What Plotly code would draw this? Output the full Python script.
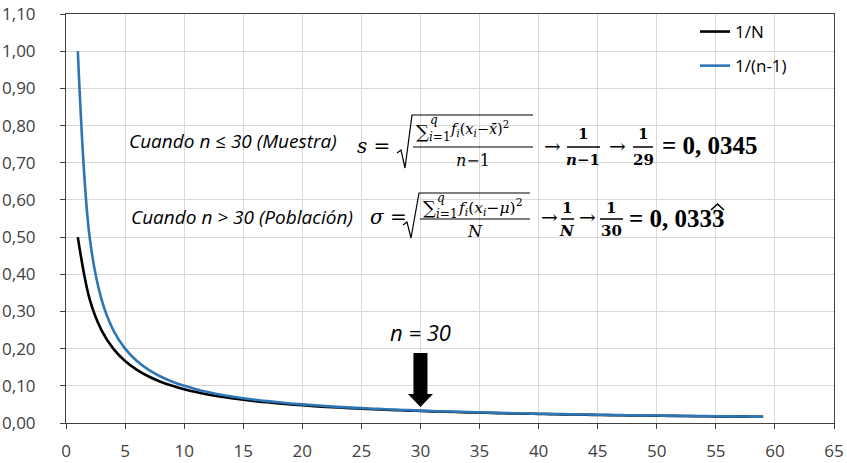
import plotly.graph_objects as go

# ---------------- data ----------------
X_VALUES = [1, 2, 3, 4, 5, 6, 7, 8, 9, 10,
            11, 12, 13, 14, 15, 16, 17, 18, 19, 20,
            21, 22, 23, 24, 25, 26, 27, 28, 29, 30,
            31, 32, 33, 34, 35, 36, 37, 38, 39, 40,
            41, 42, 43, 44, 45, 46, 47, 48, 49, 50,
            51, 52, 53, 54, 55, 56, 57, 58, 59]

ONE_OVER_N = [0.5000, 0.3333, 0.2500, 0.2000, 0.1667, 0.1429, 0.1250, 0.1111, 0.1000, 0.0909,
              0.0833, 0.0769, 0.0714, 0.0667, 0.0625, 0.0588, 0.0556, 0.0526, 0.0500, 0.0476,
              0.0455, 0.0435, 0.0417, 0.0400, 0.0385, 0.0370, 0.0357, 0.0345, 0.0333, 0.0323,
              0.0313, 0.0303, 0.0294, 0.0286, 0.0278, 0.0270, 0.0263, 0.0256, 0.0250, 0.0244,
              0.0238, 0.0233, 0.0227, 0.0222, 0.0217, 0.0213, 0.0208, 0.0204, 0.0200, 0.0196,
              0.0192, 0.0189, 0.0185, 0.0182, 0.0179, 0.0175, 0.0172, 0.0169, 0.0167]

ONE_OVER_N_MINUS_1 = [1.0000, 0.5000, 0.3333, 0.2500, 0.2000, 0.1667, 0.1429, 0.1250, 0.1111, 0.1000,
                      0.0909, 0.0833, 0.0769, 0.0714, 0.0667, 0.0625, 0.0588, 0.0556, 0.0526, 0.0500,
                      0.0476, 0.0455, 0.0435, 0.0417, 0.0400, 0.0385, 0.0370, 0.0357, 0.0345, 0.0333,
                      0.0323, 0.0313, 0.0303, 0.0294, 0.0286, 0.0278, 0.0270, 0.0263, 0.0256, 0.0250,
                      0.0244, 0.0238, 0.0233, 0.0227, 0.0222, 0.0217, 0.0213, 0.0208, 0.0204, 0.0200,
                      0.0196, 0.0192, 0.0189, 0.0185, 0.0182, 0.0179, 0.0175, 0.0172, 0.0169]

SERIES_NAMES = ["1/N", "1/(n-1)"]
X_TICKS = [0, 5, 10, 15, 20, 25, 30, 35, 40, 45, 50, 55, 60, 65]
Y_TICKS = [0.0, 0.1, 0.2, 0.3, 0.4, 0.5, 0.6, 0.7, 0.8, 0.9, 1.0, 1.1]
MARK_N = 30
MARK_LABEL = "n = 30"

# ---------------- layout constants ----------------
W, H = 847, 463
ML, MR, MT, MB = 66, 13, 14, 40
PW, PH = W - ML - MR, H - MT - MB
XMIN, XMAX = 0, 65
YMIN, YMAX = 0, 1.10

BLACK = "#000000"
BLUE = "#2E75B6"
AXIS = "#404040"
SANS = "Open Sans"
SERIF = "DejaVu Serif"
NUMF = "Liberation Serif"


def px(x):
    return (x - ML) / PW


def py(y):
    return (H - MB - y) / PH


fig = go.Figure()
fig.add_trace(go.Scatter(x=X_VALUES, y=ONE_OVER_N, mode="lines", name=SERIES_NAMES[0],
                         legendgroup="a",
                         line=dict(color=BLACK, width=2.6, shape="spline", smoothing=1.0)))
fig.add_trace(go.Scatter(x=X_VALUES, y=ONE_OVER_N_MINUS_1, mode="lines", name=SERIES_NAMES[1],
                         legendgroup="b",
                         line=dict(color=BLUE, width=2.6, shape="spline", smoothing=1.0)))

annotations = []
shapes = []


def txt(text, x, y, size, family=SERIF, xanchor="left", color="black"):
    annotations.append(dict(text=text, x=px(x), y=py(y), xref="paper", yref="paper",
                            xanchor=xanchor, yanchor="middle", showarrow=False,
                            font=dict(family=family, size=size, color=color)))


def hline(x0, x1, y, w=1.2):
    shapes.append(dict(type="line", xref="paper", yref="paper",
                       x0=px(x0), x1=px(x1), y0=py(y), y1=py(y),
                       line=dict(color="black", width=w)))


def poly(pts, w=1.2):
    path = "M " + " L ".join(f"{px(a):.5f},{py(b):.5f}" for a, b in pts)
    shapes.append(dict(type="path", xref="paper", yref="paper", path=path,
                       line=dict(color="black", width=w)))


# ---- row 1 ----
txt("<i>Cuando n ≤ 30 (Muestra)</i>", 127, 141, 19, family=SANS)
txt("<i>s</i> =", 355, 146, 20)
poly([(397, 153), (401, 150), (405, 168), (412, 115), (533, 115)])
txt("∑", 414, 131, 18)
txt("<i>q</i>", 428, 120, 12)
txt("<i>i</i>=1", 427, 137, 12)
txt("<i>f<sub>i</sub></i>(<i>x<sub>i</sub></i>−<i>x̄</i>)<sup>2</sup>", 448, 129, 14.5)
hline(413, 533, 147)
txt("<i>n</i>−1", 473, 160, 16, xanchor="center")
txt("→", 552, 146, 20, xanchor="center")
txt("<b>1</b>", 583, 134, 15, xanchor="center")
hline(567, 600, 147, 1.5)
txt("<b><i>n</i>−1</b>", 583, 160, 15, xanchor="center")
txt("→", 617, 146, 20, xanchor="center")
txt("<b>1</b>", 643, 134, 15, xanchor="center")
hline(633, 653, 147, 1.5)
txt("<b>29</b>", 643, 160, 15, xanchor="center")
txt("<b>= 0, 0345</b>", 660, 145, 25, family=NUMF)

# ---- row 2 ----
txt("<i>Cuando n > 30 (Población)</i>", 129, 217, 19, family=SANS)
txt("<i>σ</i> =", 368, 217, 20)
poly([(403, 225), (407, 222), (411, 238), (419, 193), (530, 193)])
txt("∑", 421, 208, 18)
txt("<i>q</i>", 435, 198, 12)
txt("<i>i</i>=1", 434, 214, 12)
txt("<i>f<sub>i</sub></i>(<i>x<sub>i</sub></i>−<i>μ</i>)<sup>2</sup>", 456, 207, 15.5)
hline(420, 530, 219)
txt("<i>N</i>", 475, 231, 16, xanchor="center")
txt("→", 549, 217, 20, xanchor="center")
txt("<b>1</b>", 567, 208, 15, xanchor="center")
hline(561, 574, 219, 1.5)
txt("<b><i>N</i></b>", 567, 231, 15, xanchor="center")
txt("→", 587, 217, 20, xanchor="center")
txt("<b>1</b>", 611, 208, 15, xanchor="center")
hline(600, 623, 219, 1.5)
txt("<b>30</b>", 611, 231, 15, xanchor="center")
txt("<b>= 0, 0333</b>", 627, 218, 25, family=NUMF)
poly([(711, 210), (717.5, 204), (724, 210)], w=1.6)

# ---- n = 30 marker ----
ux = PW / (XMAX - XMIN)   # px per x unit
uy = PH / (YMAX - YMIN)   # px per y unit
annotations.append(dict(text=f"<i>{MARK_LABEL}</i>", x=MARK_N, y=(H - MB - 332) / uy,
                        xref="x", yref="y", xanchor="center", yanchor="middle",
                        showarrow=False, font=dict(family=SANS, size=22, color="black")))
sh, hh = 7 / ux, 12.5 / ux
y_top, y_base, y_tip = (H - MB - 353) / uy, (H - MB - 394) / uy, (H - MB - 407) / uy
arrow = (f"M {MARK_N - sh},{y_top} L {MARK_N + sh},{y_top} L {MARK_N + sh},{y_base} "
         f"L {MARK_N + hh},{y_base} L {MARK_N},{y_tip} L {MARK_N - hh},{y_base} "
         f"L {MARK_N - sh},{y_base} Z")
shapes.append(dict(type="path", xref="x", yref="y", path=arrow,
                   fillcolor="black", line=dict(color="black", width=0)))

fig.update_layout(
    width=W, height=H,
    margin=dict(l=ML, r=MR, t=MT, b=MB, pad=0),
    paper_bgcolor="white", plot_bgcolor="white",
    separators=",.",
    font=dict(family=SANS, size=17, color=AXIS),
    showlegend=True,
    legend=dict(x=px(695), y=1.0, xanchor="left", yanchor="top",
                bgcolor="rgba(0,0,0,0)", traceorder="grouped", tracegroupgap=9,
                itemwidth=30, font=dict(family=SANS, size=17, color="#000000")),
    annotations=annotations,
    shapes=shapes,
)
fig.update_xaxes(range=[XMIN, XMAX], tickvals=X_TICKS, showgrid=True, gridcolor="#d9d9d9",
                 gridwidth=1, zeroline=False, showline=True, linecolor=AXIS, linewidth=1,
                 mirror=True, ticks="outside", ticklen=5, tickcolor=AXIS, automargin=False,
                 ticklabelstandoff=8, tickfont=dict(family=SANS, size=17, color=AXIS))
fig.update_yaxes(range=[YMIN, YMAX], tickvals=Y_TICKS, tickformat=".2f", showgrid=True,
                 gridcolor="#d9d9d9", gridwidth=1, zeroline=False, showline=True,
                 linecolor=AXIS, linewidth=1, mirror=True, ticks="outside", ticklen=5,
                 tickcolor=AXIS, ticklabelstandoff=21, automargin=False,
                 tickfont=dict(family=SANS, size=17, color=AXIS))

fig.write_html("out.html", config={"displayModeBar": False},
               post_script="document.body.style.margin='0';")
